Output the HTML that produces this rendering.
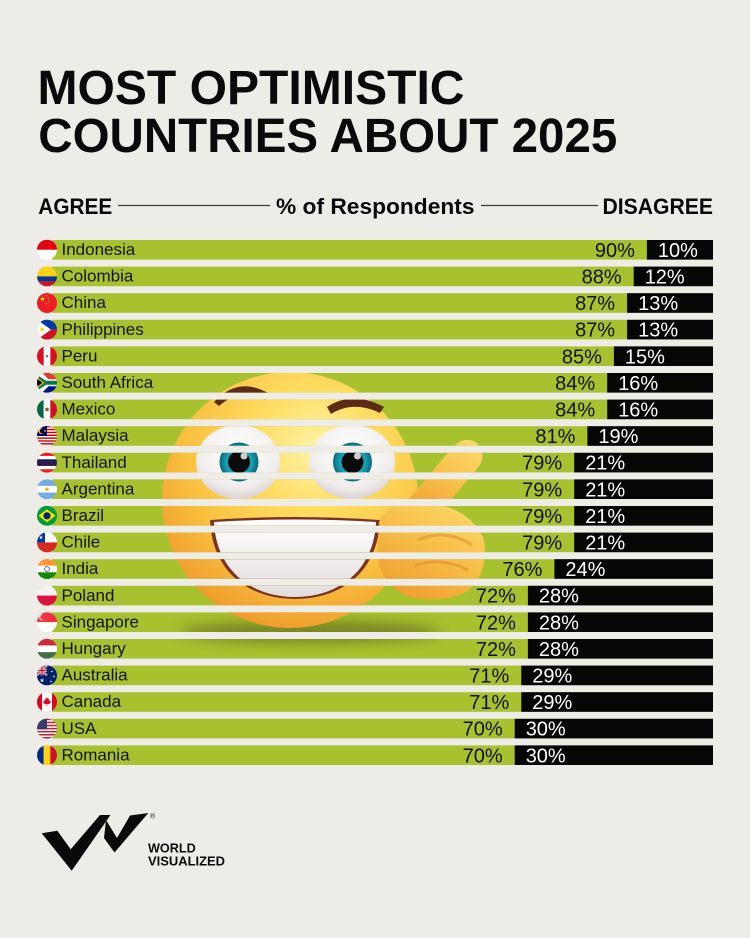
<!DOCTYPE html>
<html><head><meta charset="utf-8"><style>
html,body{margin:0;padding:0;background:#eeece7;}
svg{display:block}
</style></head><body>
<svg width="750" height="938" viewBox="0 0 750 938" xmlns="http://www.w3.org/2000/svg" xmlns:xlink="http://www.w3.org/1999/xlink" font-family="'Liberation Sans', Arial, sans-serif">
<defs>
  <clipPath id="fc"><circle cx="0" cy="0" r="10"/></clipPath>
  <clipPath id="barclip">
    <rect x="52" y="373" width="661" height="19.6"/>
    <rect x="52" y="399.6" width="661" height="19.6"/>
    <rect x="52" y="426.2" width="661" height="19.6"/>
    <rect x="52" y="452.8" width="661" height="19.6"/>
    <rect x="52" y="479.4" width="661" height="19.6"/>
    <rect x="52" y="506" width="661" height="19.6"/>
    <rect x="52" y="532.6" width="661" height="19.6"/>
    <rect x="52" y="559.2" width="661" height="19.6"/>
    <rect x="52" y="585.8" width="661" height="19.6"/>
    <rect x="52" y="612.4" width="661" height="19.6"/>
    <rect x="52" y="639" width="661" height="19.6"/>
  </clipPath>
  <radialGradient id="face" cx="0.6" cy="0.3" r="0.78">
    <stop offset="0" stop-color="#fff4ab"/>
    <stop offset="0.3" stop-color="#fedd62"/>
    <stop offset="0.65" stop-color="#f9c03f"/>
    <stop offset="0.9" stop-color="#f0a030"/>
    <stop offset="1" stop-color="#e58c28"/>
  </radialGradient>
  <radialGradient id="eyew" cx="0.5" cy="0.35" r="0.7">
    <stop offset="0" stop-color="#ffffff"/>
    <stop offset="0.7" stop-color="#f1eded"/>
    <stop offset="1" stop-color="#d5caca"/>
  </radialGradient>
  <radialGradient id="iris" cx="0.5" cy="0.5" r="0.5">
    <stop offset="0" stop-color="#2fc7d4"/>
    <stop offset="0.65" stop-color="#17a2b5"/>
    <stop offset="1" stop-color="#0b6878"/>
  </radialGradient>
  <linearGradient id="teeth" x1="0" y1="0" x2="0" y2="1">
    <stop offset="0" stop-color="#ffffff"/>
    <stop offset="1" stop-color="#e3dcdc"/>
  </linearGradient>
  <linearGradient id="hand" x1="0.2" y1="1" x2="0.8" y2="0">
    <stop offset="0" stop-color="#ee9c30"/>
    <stop offset="0.6" stop-color="#f8c24c"/>
    <stop offset="1" stop-color="#fcd86c"/>
  </linearGradient>
  <filter id="blur" x="-50%" y="-50%" width="200%" height="200%"><feGaussianBlur stdDeviation="6"/></filter>
  <polygon id="star" points="0,-2.6 0.59,-0.81 2.47,-0.8 0.95,0.31 1.53,2.1 0,1 -1.53,2.1 -0.95,0.31 -2.47,-0.8 -0.59,-0.81"/>
</defs>

<rect width="750" height="938" fill="#eeece7"/>

<!-- Title -->
<text x="37.5" y="104" font-size="48" font-weight="bold" fill="#0a0a0a" textLength="427" lengthAdjust="spacingAndGlyphs">MOST OPTIMISTIC</text>
<text x="38.3" y="152" font-size="48" font-weight="bold" fill="#0a0a0a" textLength="579" lengthAdjust="spacingAndGlyphs">COUNTRIES ABOUT 2025</text>

<!-- Header -->
<text x="38.3" y="214" font-size="22" font-weight="bold" fill="#0a0a0a" textLength="74" lengthAdjust="spacingAndGlyphs">AGREE</text>
<line x1="118" y1="205.5" x2="270" y2="205.5" stroke="#3a3a3a" stroke-width="1.2"/>
<text x="276" y="214" font-size="22.5" font-weight="bold" fill="#0a0a0a" textLength="198.5" lengthAdjust="spacingAndGlyphs">% of Respondents</text>
<line x1="481" y1="205.5" x2="598" y2="205.5" stroke="#3a3a3a" stroke-width="1.2"/>
<text x="602.5" y="214" font-size="22" font-weight="bold" fill="#0a0a0a" textLength="110.5" lengthAdjust="spacingAndGlyphs">DISAGREE</text>

<!-- Bars -->
<g fill="#a8c12f">
  <rect x="52" y="240" width="661" height="19.6"/>
  <rect x="52" y="266.6" width="661" height="19.6"/>
  <rect x="52" y="293.2" width="661" height="19.6"/>
  <rect x="52" y="319.8" width="661" height="19.6"/>
  <rect x="52" y="346.4" width="661" height="19.6"/>
  <rect x="52" y="373" width="661" height="19.6"/>
  <rect x="52" y="399.6" width="661" height="19.6"/>
  <rect x="52" y="426.2" width="661" height="19.6"/>
  <rect x="52" y="452.8" width="661" height="19.6"/>
  <rect x="52" y="479.4" width="661" height="19.6"/>
  <rect x="52" y="506" width="661" height="19.6"/>
  <rect x="52" y="532.6" width="661" height="19.6"/>
  <rect x="52" y="559.2" width="661" height="19.6"/>
  <rect x="52" y="585.8" width="661" height="19.6"/>
  <rect x="52" y="612.4" width="661" height="19.6"/>
  <rect x="52" y="639" width="661" height="19.6"/>
  <rect x="52" y="665.6" width="661" height="19.6"/>
  <rect x="52" y="692.2" width="661" height="19.6"/>
  <rect x="52" y="718.8" width="661" height="19.6"/>
  <rect x="52" y="745.4" width="661" height="19.6"/>
</g>
<g fill="#060606">
  <rect x="646.9" y="240" width="66.1" height="19.6"/>
  <rect x="633.7" y="266.6" width="79.3" height="19.6"/>
  <rect x="627.1" y="293.2" width="85.9" height="19.6"/>
  <rect x="627.1" y="319.8" width="85.9" height="19.6"/>
  <rect x="613.9" y="346.4" width="99.1" height="19.6"/>
  <rect x="607.2" y="373" width="105.8" height="19.6"/>
  <rect x="607.2" y="399.6" width="105.8" height="19.6"/>
  <rect x="587.4" y="426.2" width="125.6" height="19.6"/>
  <rect x="574.2" y="452.8" width="138.8" height="19.6"/>
  <rect x="574.2" y="479.4" width="138.8" height="19.6"/>
  <rect x="574.2" y="506" width="138.8" height="19.6"/>
  <rect x="574.2" y="532.6" width="138.8" height="19.6"/>
  <rect x="554.4" y="559.2" width="158.6" height="19.6"/>
  <rect x="527.9" y="585.8" width="185.1" height="19.6"/>
  <rect x="527.9" y="612.4" width="185.1" height="19.6"/>
  <rect x="527.9" y="639" width="185.1" height="19.6"/>
  <rect x="521.3" y="665.6" width="191.7" height="19.6"/>
  <rect x="521.3" y="692.2" width="191.7" height="19.6"/>
  <rect x="514.7" y="718.8" width="198.3" height="19.6"/>
  <rect x="514.7" y="745.4" width="198.3" height="19.6"/>
</g>

<!-- Emoji (visible only within bars) -->
<g clip-path="url(#barclip)">
  <ellipse cx="310" cy="632" rx="130" ry="11" fill="#4d4a12" opacity="0.5" filter="url(#blur)"/>
  <circle cx="290" cy="500" r="128" fill="url(#face)"/>
  <path d="M214,402 Q238,376 268,393 L265,400 Q240,387 219,406 Z" fill="#5b2c14"/>
  <path d="M327,407 Q353,390 384,407 L380,413 Q353,400 331,414 Z" fill="#5b2c14"/>
  <ellipse cx="238" cy="462" rx="42" ry="37" fill="url(#eyew)"/>
  <ellipse cx="352" cy="462" rx="43" ry="37" fill="url(#eyew)"/>
  <circle cx="239" cy="462" r="19.5" fill="url(#iris)"/>
  <circle cx="352.5" cy="462" r="19.5" fill="url(#iris)"/>
  <circle cx="239" cy="462" r="11" fill="#0b0b0b"/>
  <circle cx="352.5" cy="462" r="11" fill="#0b0b0b"/>
  <circle cx="244" cy="456" r="3.5" fill="#ffffff" opacity="0.8"/>
  <circle cx="357.5" cy="456" r="3.5" fill="#ffffff" opacity="0.8"/>
  <path d="M210,520 Q295,514 380,520 C378,572 341,599 295,599 C249,599 212,572 210,520 Z" fill="#7a3320"/>
  <path d="M214,522 Q295,517 376,522 C374,570 339,597 295,597 C251,597 216,570 214,522 Z" fill="url(#teeth)"/>
  <path d="M398,512 L452,448 Q466,434 478,444 Q488,456 476,470 L432,522 Z" fill="url(#hand)"/>
  <path d="M379,522 Q390,498 422,502 Q470,506 484,540 Q489,575 466,592 Q440,604 410,597 Q382,586 377,556 Z" fill="url(#hand)"/>
  <path d="M418,540 Q445,528 472,545" stroke="#e08f2a" stroke-width="3" fill="none" opacity="0.6"/>
  <path d="M414,566 Q440,556 468,570" stroke="#e08f2a" stroke-width="3" fill="none" opacity="0.6"/>
</g>

<!-- Flags -->
<g transform="translate(47,249.8)"><g clip-path="url(#fc)">
  <rect x="-10" y="-10" width="20" height="10" fill="#e70011"/><rect x="-10" y="0" width="20" height="10" fill="#ffffff"/>
</g></g>
<g transform="translate(47,276.4)"><g clip-path="url(#fc)">
  <rect x="-10" y="-10" width="20" height="10" fill="#fcd116"/><rect x="-10" y="0" width="20" height="5" fill="#003893"/><rect x="-10" y="5" width="20" height="5" fill="#ce1126"/>
</g></g>
<g transform="translate(47,303)"><g clip-path="url(#fc)">
  <rect x="-10" y="-10" width="20" height="20" fill="#ee1c25"/>
  <use xlink:href="#star" href="#star" transform="translate(-4.5,-4) scale(1.1)" fill="#ffde00"/>
  <use xlink:href="#star" href="#star" transform="translate(-0.5,-7) scale(0.4)" fill="#ffde00"/>
  <use xlink:href="#star" href="#star" transform="translate(1.5,-4.5) scale(0.4)" fill="#ffde00"/>
  <use xlink:href="#star" href="#star" transform="translate(1.5,-1.5) scale(0.4)" fill="#ffde00"/>
  <use xlink:href="#star" href="#star" transform="translate(-0.5,0.5) scale(0.4)" fill="#ffde00"/>
</g></g>
<g transform="translate(47,329.6)"><g clip-path="url(#fc)">
  <rect x="-10" y="-10" width="20" height="10" fill="#0038a8"/><rect x="-10" y="0" width="20" height="10" fill="#ce1126"/>
  <polygon points="-10,-10 4,0 -10,10" fill="#ffffff"/><circle cx="-5" cy="0" r="1.8" fill="#fcd116"/>
</g></g>
<g transform="translate(47,356.2)"><g clip-path="url(#fc)">
  <rect x="-10" y="-10" width="20" height="20" fill="#d91023"/><rect x="-3.33" y="-10" width="6.67" height="20" fill="#ffffff"/>
  <circle cx="0" cy="0" r="1.3" fill="#9c7a3c"/>
</g></g>
<g transform="translate(47,382.8)"><g clip-path="url(#fc)">
  <rect x="-10" y="-10" width="20" height="10" fill="#e03c31"/><rect x="-10" y="0" width="20" height="10" fill="#001489"/>
  <polygon points="-10,-10 -5,-10 1.5,-3.5 10,-3.5 10,3.5 1.5,3.5 -5,10 -10,10" fill="#ffffff"/>
  <polygon points="-10,-8 -1,-2 10,-2 10,2 -1,2 -10,8" fill="#007a4d"/>
  <polygon points="-10,-5.5 -2.5,0 -10,5.5" fill="#ffb612"/>
  <polygon points="-10,-4 -4.5,0 -10,4" fill="#000000"/>
</g></g>
<g transform="translate(47,409.4)"><g clip-path="url(#fc)">
  <rect x="-10" y="-10" width="6.67" height="20" fill="#006847"/><rect x="-3.33" y="-10" width="6.67" height="20" fill="#ffffff"/><rect x="3.33" y="-10" width="6.67" height="20" fill="#ce1126"/>
  <circle cx="0" cy="0" r="1.8" fill="#8c5a2b"/>
</g></g>
<g transform="translate(47,436)"><g clip-path="url(#fc)">
  <rect x="-10" y="-10" width="20" height="20" fill="#cc0001"/>
  <g fill="#ffffff">
    <rect x="-10" y="-8.57" width="20" height="1.43"/><rect x="-10" y="-5.71" width="20" height="1.43"/><rect x="-10" y="-2.86" width="20" height="1.43"/>
    <rect x="-10" y="0" width="20" height="1.43"/><rect x="-10" y="2.86" width="20" height="1.43"/><rect x="-10" y="5.71" width="20" height="1.43"/><rect x="-10" y="8.57" width="20" height="1.43"/>
  </g>
  <rect x="-10" y="-10" width="10" height="10" fill="#010066"/>
  <circle cx="-5.5" cy="-5" r="3" fill="#ffcc00"/><circle cx="-4.6" cy="-5" r="2.5" fill="#010066"/>
  <use xlink:href="#star" href="#star" transform="translate(-2,-5) scale(0.6)" fill="#ffcc00"/>
</g></g>
<g transform="translate(47,462.6)"><g clip-path="url(#fc)">
  <rect x="-10" y="-10" width="20" height="20" fill="#ed1c24"/><rect x="-10" y="-6.67" width="20" height="13.33" fill="#ffffff"/><rect x="-10" y="-3.33" width="20" height="6.67" fill="#241d4f"/>
</g></g>
<g transform="translate(47,489.2)"><g clip-path="url(#fc)">
  <rect x="-10" y="-10" width="20" height="20" fill="#74acdf"/><rect x="-10" y="-3.33" width="20" height="6.67" fill="#ffffff"/>
  <circle cx="0" cy="0" r="1.8" fill="#f6b40e"/>
</g></g>
<g transform="translate(47,515.8)"><g clip-path="url(#fc)">
  <rect x="-10" y="-10" width="20" height="20" fill="#009c3b"/>
  <polygon points="-8.5,0 0,-6.5 8.5,0 0,6.5" fill="#fedf00"/>
  <circle cx="0" cy="0" r="3.6" fill="#002776"/>
</g></g>
<g transform="translate(47,542.4)"><g clip-path="url(#fc)">
  <rect x="-10" y="-10" width="20" height="10" fill="#ffffff"/><rect x="-10" y="0" width="20" height="10" fill="#d52b1e"/>
  <rect x="-10" y="-10" width="8" height="10" fill="#0039a6"/>
  <use xlink:href="#star" href="#star" transform="translate(-6,-5) scale(0.8)" fill="#ffffff"/>
</g></g>
<g transform="translate(47,569)"><g clip-path="url(#fc)">
  <rect x="-10" y="-10" width="20" height="6.67" fill="#ff9933"/><rect x="-10" y="-3.33" width="20" height="6.67" fill="#ffffff"/><rect x="-10" y="3.33" width="20" height="6.67" fill="#138808"/>
  <circle cx="0" cy="0" r="2.3" fill="none" stroke="#000080" stroke-width="0.6"/>
</g></g>
<g transform="translate(47,595.6)"><g clip-path="url(#fc)">
  <rect x="-10" y="-10" width="20" height="10" fill="#f4f4f4"/><rect x="-10" y="0" width="20" height="10" fill="#dc143c"/>
</g></g>
<g transform="translate(47,622.2)"><g clip-path="url(#fc)">
  <rect x="-10" y="-10" width="20" height="10" fill="#ef3340"/><rect x="-10" y="0" width="20" height="10" fill="#ffffff"/>
  <circle cx="-5" cy="-5" r="3" fill="#ffffff"/><circle cx="-4" cy="-5" r="2.7" fill="#ef3340"/>
</g></g>
<g transform="translate(47,648.8)"><g clip-path="url(#fc)">
  <rect x="-10" y="-10" width="20" height="6.67" fill="#cd2a3e"/><rect x="-10" y="-3.33" width="20" height="6.67" fill="#ffffff"/><rect x="-10" y="3.33" width="20" height="6.67" fill="#436f4d"/>
</g></g>
<g transform="translate(47,675.4)"><g clip-path="url(#fc)">
  <rect x="-10" y="-10" width="20" height="20" fill="#012169"/>
  <path d="M-10,-10 L0,0 M0,-10 L-10,0" stroke="#ffffff" stroke-width="2"/>
  <path d="M-10,-10 L0,0 M0,-10 L-10,0" stroke="#c8102e" stroke-width="0.8"/>
  <path d="M-5,-10 V0 M-10,-5 H0" stroke="#ffffff" stroke-width="2.6"/>
  <path d="M-5,-10 V0 M-10,-5 H0" stroke="#c8102e" stroke-width="1.4"/>
  <use xlink:href="#star" href="#star" transform="translate(-5,5) scale(0.9)" fill="#ffffff"/>
  <use xlink:href="#star" href="#star" transform="translate(5,-4) scale(0.5)" fill="#ffffff"/>
  <use xlink:href="#star" href="#star" transform="translate(7,1) scale(0.5)" fill="#ffffff"/>
  <use xlink:href="#star" href="#star" transform="translate(4,6) scale(0.5)" fill="#ffffff"/>
</g></g>
<g transform="translate(47,702)"><g clip-path="url(#fc)">
  <rect x="-10" y="-10" width="20" height="20" fill="#d80621"/><rect x="-5" y="-10" width="10" height="20" fill="#ffffff"/>
  <polygon points="0,-5 1,-3 2.2,-3.6 1.8,-0.8 3.6,-2 3.2,-0.6 4.4,-0.2 2.5,1.5 3,2.3 0.3,2 0.3,4.5 -0.3,4.5 -0.3,2 -3,2.3 -2.5,1.5 -4.4,-0.2 -3.2,-0.6 -3.6,-2 -1.8,-0.8 -2.2,-3.6 -1,-3" fill="#d80621"/>
</g></g>
<g transform="translate(47,728.6)"><g clip-path="url(#fc)">
  <rect x="-10" y="-10" width="20" height="20" fill="#b22234"/>
  <g fill="#ffffff">
    <rect x="-10" y="-8.46" width="20" height="1.54"/><rect x="-10" y="-5.38" width="20" height="1.54"/><rect x="-10" y="-2.31" width="20" height="1.54"/>
    <rect x="-10" y="0.77" width="20" height="1.54"/><rect x="-10" y="3.85" width="20" height="1.54"/><rect x="-10" y="6.92" width="20" height="1.54"/>
  </g>
  <rect x="-10" y="-10" width="10" height="10.8" fill="#3c3b6e"/>
</g></g>
<g transform="translate(47,755.2)"><g clip-path="url(#fc)">
  <rect x="-10" y="-10" width="6.67" height="20" fill="#002b7f"/><rect x="-3.33" y="-10" width="6.67" height="20" fill="#fcd116"/><rect x="3.33" y="-10" width="6.67" height="20" fill="#ce1126"/>
</g></g>

<!-- Country names -->
<g font-size="17" fill="#141414">
  <text x="61.5" y="255">Indonesia</text>
  <text x="61.5" y="281.6">Colombia</text>
  <text x="61.5" y="308.2">China</text>
  <text x="61.5" y="334.8">Philippines</text>
  <text x="61.5" y="361.4">Peru</text>
  <text x="61.5" y="388">South Africa</text>
  <text x="61.5" y="414.6">Mexico</text>
  <text x="61.5" y="441.2">Malaysia</text>
  <text x="61.5" y="467.8">Thailand</text>
  <text x="61.5" y="494.4">Argentina</text>
  <text x="61.5" y="521">Brazil</text>
  <text x="61.5" y="547.6">Chile</text>
  <text x="61.5" y="574.2">India</text>
  <text x="61.5" y="600.8">Poland</text>
  <text x="61.5" y="627.4">Singapore</text>
  <text x="61.5" y="654">Hungary</text>
  <text x="61.5" y="680.6">Australia</text>
  <text x="61.5" y="707.2">Canada</text>
  <text x="61.5" y="733.8">USA</text>
  <text x="61.5" y="760.4">Romania</text>
</g>

<!-- Agree percentages -->
<g font-size="20" fill="#111111" text-anchor="end">
  <text x="634.9" y="256.9">90%</text>
  <text x="621.7" y="283.5">88%</text>
  <text x="615.1" y="310.1">87%</text>
  <text x="615.1" y="336.7">87%</text>
  <text x="601.9" y="363.3">85%</text>
  <text x="595.2" y="389.9">84%</text>
  <text x="595.2" y="416.5">84%</text>
  <text x="575.4" y="443.1">81%</text>
  <text x="562.2" y="469.7">79%</text>
  <text x="562.2" y="496.3">79%</text>
  <text x="562.2" y="522.9">79%</text>
  <text x="562.2" y="549.5">79%</text>
  <text x="542.4" y="576.1">76%</text>
  <text x="515.9" y="602.7">72%</text>
  <text x="515.9" y="629.3">72%</text>
  <text x="515.9" y="655.9">72%</text>
  <text x="509.3" y="682.5">71%</text>
  <text x="509.3" y="709.1">71%</text>
  <text x="502.7" y="735.7">70%</text>
  <text x="502.7" y="762.3">70%</text>
</g>

<!-- Disagree percentages -->
<g font-size="20" fill="#ffffff">
  <text x="657.9" y="256.9">10%</text>
  <text x="644.7" y="283.5">12%</text>
  <text x="638.1" y="310.1">13%</text>
  <text x="638.1" y="336.7">13%</text>
  <text x="624.9" y="363.3">15%</text>
  <text x="618.2" y="389.9">16%</text>
  <text x="618.2" y="416.5">16%</text>
  <text x="598.4" y="443.1">19%</text>
  <text x="585.2" y="469.7">21%</text>
  <text x="585.2" y="496.3">21%</text>
  <text x="585.2" y="522.9">21%</text>
  <text x="585.2" y="549.5">21%</text>
  <text x="565.4" y="576.1">24%</text>
  <text x="538.9" y="602.7">28%</text>
  <text x="538.9" y="629.3">28%</text>
  <text x="538.9" y="655.9">28%</text>
  <text x="532.3" y="682.5">29%</text>
  <text x="532.3" y="709.1">29%</text>
  <text x="525.7" y="735.7">30%</text>
  <text x="525.7" y="762.3">30%</text>
</g>

<!-- Logo -->
<g fill="#0a0a0a">
  <polygon points="41.7,833.3 57.3,830.7 70.7,849.3 100,815 110.5,815 71.7,870.7"/>
  <polygon points="106,820 117,838 130,815.5 148.3,813 114.5,852.5 104,838"/>
</g>
<text x="150" y="818.5" font-size="7" fill="#0a0a0a">®</text>
<text x="148" y="852.7" font-size="12.5" font-weight="bold" fill="#0a0a0a" textLength="47.7" lengthAdjust="spacingAndGlyphs">WORLD</text>
<text x="148" y="865.7" font-size="12.5" font-weight="bold" fill="#0a0a0a" textLength="77" lengthAdjust="spacingAndGlyphs">VISUALIZED</text>
</svg>
</body></html>
